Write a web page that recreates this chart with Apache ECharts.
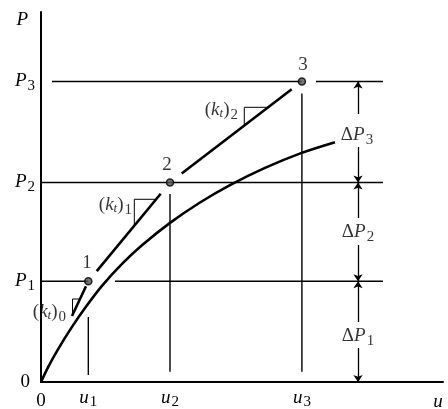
<!DOCTYPE html>
<html><head><meta charset="utf-8">
<script src="https://cdn.jsdelivr.net/npm/echarts@6/dist/echarts.min.js"></script>
<style>html,body{margin:0;padding:0;background:#fff}#c{width:448px;height:409px}</style>
</head><body><div id="c"></div>
<script>
// ---- data (arbitrary units) ----
const curveU = [0, 0.174, 0.423, 0.771, 1.095, 1.517, 2.015, 2.512, 3.209, 3.955, 4.701, 5.572, 6.468, 7.313];
const curveP = [0, 0.397, 0.884, 1.489, 2.0, 2.597, 3.192, 3.695, 4.300, 4.851, 5.322, 5.786, 6.186, 6.481];
const stepU = [1.177, 3.209, 6.49];      // u1, u2, u3
const stepP = [2.724, 5.392, 8.122];     // P1, P2, P3
const stepNames = ['1', '2', '3'];
// visible part of each tangent (k_t)_i : u range
const tanFromU = [0.771, 1.386, 3.500];
const tanToU   = [1.119, 2.978, 6.236];
// slope-triangle corner (u, P)
const triU = [0.784, 2.321, 5.057];
const triP = [2.243, 4.938, 7.424];
// horizontal guide segments: [P, uStart, uEnd]
const hSegP  = [2.724, 2.724, 5.392, 8.122, 8.122];
const hSegU0 = [0, 1.841, 0, 0.274, 6.841];
const hSegU1 = [1.177, 8.507, 8.507, 6.49, 8.507];
// vertical guide segments: [u, P0, P1]
const vSegU  = [1.177, 3.209, 6.49];
const vSegP0 = [0.19, 0.28, 0.28];
const vSegP1 = [1.76, 5.08, 7.80];
// dimension arrows at u = dimU : from P -> to P (arrowhead at 'to')
const dimU = 7.886;
const dimFrom = [7.243, 6.351, 4.432, 3.703, 1.622, 0.919];
const dimTo   = [8.122, 5.392, 5.392, 2.724, 2.724, 0];
// tick labels
const xTickVals = [0, 1.177, 3.209, 6.49, 9.876];
const xTickLabels = ['{x0|0}', '{i|u}{s|1}', '{i|u}{s|2}', '{i|u}{s|3}', '{xu|u}'];
const yTickVals = [0, 2.724, 5.392, 8.122, 9.78];
const yTickLabels = ['{z|0}', '{i|P}{s|1}', '{i|P}{s|2}', '{i|P}{s|3}', '{t|P}'];
// annotations
const annoText = ['{n|1}', '{n|2}', '{n|3}',
  '{n|(}{i|k}{ts|t}{n|)}{s|0}', '{n|(}{i|k}{ts|t}{n|)}{s|1}', '{n|(}{i|k}{ts|t}{n|)}{s|2}',
  '{n|Δ}{i|P}{s|3}', '{n|Δ}{i|P}{s|2}', '{n|Δ}{i|P}{s|1}'];
const annoU = [1.144, 3.134, 6.517, 0.622, 2.264, 4.900, 7.861, 7.886, 7.886];
const annoP = [3.216, 5.865, 8.568, 1.892, 4.784, 7.351, 6.676, 4.054, 1.243];
const annoAlign = ['center', 'center', 'center', 'right', 'right', 'right', 'center', 'center', 'center'];

// ---- build ----
const FONT = 'Liberation Serif';
const rich = {
  i: {fontFamily: FONT, fontStyle: 'italic', fontSize: 19, color: '#000'},
  n: {fontFamily: FONT, fontSize: 19, color: '#000'},
  s: {fontFamily: FONT, fontSize: 15, color: '#000', padding: [10, 0, 0, 1]},
  ts: {fontFamily: FONT, fontStyle: 'italic', fontSize: 13, color: '#000', padding: [8, 0, 0, 0]},
  z: {fontFamily: FONT, fontSize: 19, color: '#000', padding: [0, 5, 0, 0]},
  t: {fontFamily: FONT, fontStyle: 'italic', fontSize: 19, color: '#000', padding: [0, 7, 0, 0]},
  x0: {fontFamily: FONT, fontSize: 19, color: '#000', padding: [7, 0, 0, 0]},
  xu: {fontFamily: FONT, fontStyle: 'italic', fontSize: 19, color: '#000', padding: [7, 0, 0, 0]}
};
function pick(vals, labels, v) {
  let best = 0;
  for (let i = 1; i < vals.length; i++) if (Math.abs(vals[i] - v) < Math.abs(vals[best] - v)) best = i;
  return labels[best];
}
const startU = [0, stepU[0], stepU[1]];
const startP = [0, stepP[0], stepP[1]];
function lineP(i, u) { return startP[i] + (stepP[i] - startP[i]) * (u - startU[i]) / (stepU[i] - startU[i]); }
function lineU(i, p) { return startU[i] + (stepU[i] - startU[i]) * (p - startP[i]) / (stepP[i] - startP[i]); }

const black = '#000';
const series = [];
series.push({type: 'line', data: curveU.map((u, i) => [u, curveP[i]]), smooth: 0.3, symbol: 'none',
  lineStyle: {color: black, width: 2.6}, z: 4});
for (let i = 0; i < 3; i++) {
  series.push({type: 'line', symbol: 'none', z: 4, lineStyle: {color: black, width: 2.6},
    data: [[tanFromU[i], lineP(i, tanFromU[i])], [tanToU[i], lineP(i, tanToU[i])]]});
  series.push({type: 'line', symbol: 'none', z: 3, lineStyle: {color: black, width: 1},
    data: [[triU[i], lineP(i, triU[i])], [triU[i], triP[i]], [lineU(i, triP[i]), triP[i]]]});
}
for (let i = 0; i < hSegP.length; i++) {
  series.push({type: 'line', symbol: 'none', z: 2, lineStyle: {color: black, width: 1.4},
    data: [[hSegU0[i], hSegP[i]], [hSegU1[i], hSegP[i]]]});
}
for (let i = 0; i < vSegU.length; i++) {
  series.push({type: 'line', symbol: 'none', z: 2, lineStyle: {color: black, width: 1.4},
    data: [[vSegU[i], vSegP0[i]], [vSegU[i], vSegP1[i]]]});
}
series.push({type: 'lines', coordinateSystem: 'cartesian2d', z: 3,
  symbol: ['none', 'arrow'], symbolSize: 7,
  lineStyle: {color: black, width: 1.3, opacity: 1},
  data: dimFrom.map((p, i) => ({coords: [[dimU, p], [dimU, dimTo[i]]]}))});
series.push({type: 'scatter', z: 6, symbol: 'circle', symbolSize: 7,
  itemStyle: {color: '#555', borderColor: black, borderWidth: 1.6},
  data: stepU.map((u, i) => ({value: [u, stepP[i]], name: stepNames[i]}))});
series.push({type: 'scatter', z: 7, symbolSize: 0, silent: true,
  data: annoText.map((t, i) => ({value: [annoU[i], annoP[i]],
    label: {show: true, position: 'inside', formatter: t, align: annoAlign[i], verticalAlign: 'middle', rich: rich}}))});

const chart = echarts.init(document.getElementById('c'), null, {renderer: 'canvas'});
chart.setOption({
  animation: false,
  backgroundColor: '#fff',
  grid: {left: 41, right: 5, top: 12, bottom: 27, containLabel: false, outerBoundsMode: 'none'},
  xAxis: {type: 'value', min: 0, max: 10,
    axisLine: {show: true, onZero: true, lineStyle: {color: black, width: 2}},
    axisTick: {show: false}, splitLine: {show: false},
    axisLabel: {show: true, customValues: xTickVals, margin: 3, rich: rich,
      formatter: v => pick(xTickVals, xTickLabels, v)}},
  yAxis: {type: 'value', min: 0, max: 10,
    axisLine: {show: true, onZero: true, lineStyle: {color: black, width: 2}},
    axisTick: {show: false}, splitLine: {show: false},
    axisLabel: {show: true, customValues: yTickVals, margin: 6, rich: rich,
      formatter: v => pick(yTickVals, yTickLabels, v)}},
  series: series
});
</script></body></html>
